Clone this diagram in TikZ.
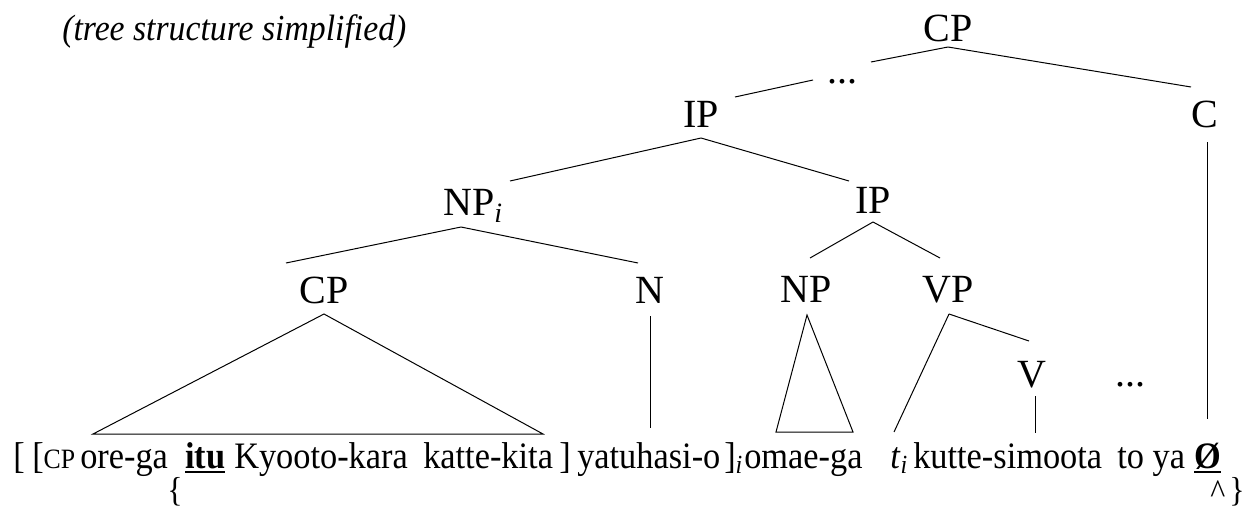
\documentclass[tikz,border=0pt]{standalone}
\usepackage{fontspec}
\setmainfont{Liberation Serif}
\newfontfamily\narrowserif{Liberation Serif}[FakeStretch=0.92]
\newcommand\ulword[1]{\setbox0\hbox{#1}\rlap{\rule[-3.5pt]{\wd0}{1.2pt}}\box0}
\begin{document}
\begin{tikzpicture}[x=0.75pt,y=-0.75pt,
  lab/.style={font=\fontsize{30}{36}\selectfont, inner sep=0pt, anchor=base},
  wd/.style={font=\narrowserif\fontsize{28}{33}\selectfont, inner sep=0pt, anchor=base west},
  mark2/.style={font=\narrowserif\fontsize{26}{30}\selectfont, inner sep=0pt, anchor=base west},
  branch/.style={line width=0.75pt, black}]
\useasboundingbox (0,0) rectangle (1248,510);
% title
\node[font=\narrowserif\fontsize{27.5}{32}\selectfont\itshape, inner sep=0pt, anchor=base west] (title) at (62,41) {(tree structure simplified)};
% tree labels
\node[lab] (CP0) at (948,42) {CP};
\node[lab] (dots1) at (842,84) {...};
\node[lab] (IP1) at (701,127) {IP};
\node[lab] (C) at (1205,127) {C};
\node[lab] (NPi) at (473,215) {NP\textsubscript{\textit{i}}};
\node[lab] (IP2) at (873,213) {IP};
\node[lab] (CP3) at (324,303) {CP};
\node[lab] (N) at (650,303) {N};
\node[lab] (NP3) at (806,302) {NP};
\node[lab] (VP) at (948,302) {VP};
\node[lab] (V) at (1032,387) {V};
\node[lab] (dots2) at (1130,386) {...};
% bottom line
\node[wd] (w1) at (13,468) {[};
\node[wd] (w2) at (32,468) {[{\fontsize{21}{24}\selectfont CP}};
\node[wd] (w3) at (80,468) {ore-ga};
\node[wd] (w4) at (185,468) {\ulword{\bfseries itu}};
\node[wd] (w5) at (234,468) {Kyooto-kara};
\node[wd] (w6) at (423,468) {katte-kita};
\node[wd] (w7) at (559,468) {]};
\node[wd] (w8) at (577,468) {yatuhasi-o};
\node[wd] (w9) at (724,468) {]\textsubscript{\textit{i}}};
\node[wd] (w10) at (744,468) {omae-ga};
\node[wd] (w11) at (890,468) {\textit{t}\textsubscript{\textit{i}}};
\node[wd] (w12) at (913,468) {kutte-simoota};
\node[wd] (w13) at (1117,468) {to ya};
\node[wd] (w14) at (1194,468) {\ulword{\bfseries Ø}};
\node[mark2] (lbrace) at (167,501) {\{};
\node[mark2] (caret) at (1210,503) {\textasciicircum};
\node[mark2] (rbrace) at (1229,501) {\}};
% free ends
\coordinate (cpL) at (93,434);
\coordinate (cpR) at (543,434);
\coordinate (nEnd) at (650,428);
\coordinate (npL) at (776,432);
\coordinate (npR) at (853,432);
\coordinate (tEnd) at (894,432);
\coordinate (vEnd) at (1035,433);
\coordinate (cEnd) at (1207,419);
% branches
\draw[branch] ([shift={(0,5)}]CP0.base) -- ([shift={(29,-22)}]dots1.base);
\draw[branch] ([shift={(-29,-4)}]dots1.base) -- ([shift={(34,-30)}]IP1.base);
\draw[branch] ([shift={(0,5)}]CP0.base) -- ([shift={(-14,-40)}]C.base);
\draw[branch] ([shift={(0,11)}]IP1.base) -- ([shift={(37,-34)}]NPi.base);
\draw[branch] ([shift={(0,11)}]IP1.base) -- ([shift={(-24,-32)}]IP2.base);
\draw[branch] ([shift={(-12,12)}]NPi.base) -- ([shift={(-38,-40)}]CP3.base);
\draw[branch] ([shift={(-12,12)}]NPi.base) -- ([shift={(-12,-40)}]N.base);
\draw[branch] ([shift={(0,9)}]IP2.base) -- ([shift={(4,-44)}]NP3.base);
\draw[branch] ([shift={(0,9)}]IP2.base) -- ([shift={(-8,-44)}]VP.base);
\draw[branch] ([shift={(0,11)}]CP3.base) -- (cpL) -- (cpR) -- cycle;
\draw[branch] ([shift={(0,13)}]N.base) -- (nEnd);
\draw[branch] ([shift={(1,13)}]NP3.base) -- (npL) -- (npR) -- cycle;
\draw[branch] ([shift={(1,12)}]VP.base) -- (tEnd);
\draw[branch] ([shift={(1,12)}]VP.base) -- ([shift={(-3,-46)}]V.base);
\draw[branch] ([shift={(3,9)}]V.base) -- (vEnd);
\draw[branch] ([shift={(2,15)}]C.base) -- (cEnd);
\end{tikzpicture}
\end{document}
